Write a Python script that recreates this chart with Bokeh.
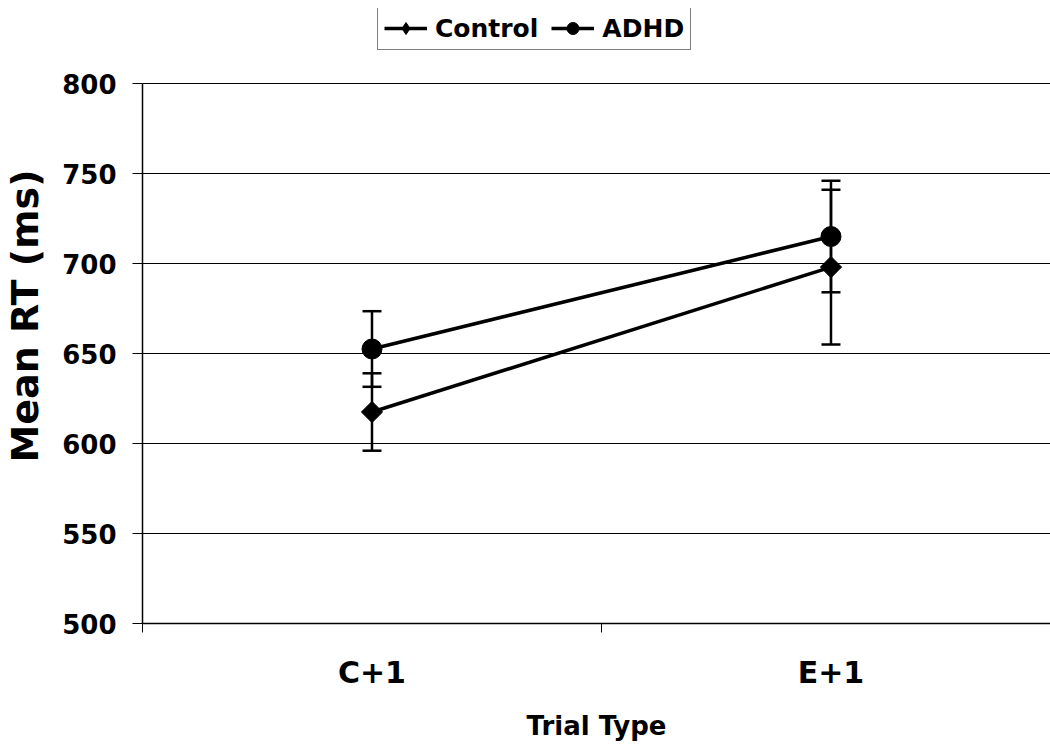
from bokeh.plotting import figure
from bokeh.models import (ColumnDataSource, Range1d, FixedTicker, Whisker, TeeHead,
                          Legend, LegendItem)
from bokeh.embed import file_html
from bokeh.resources import INLINE
import math

# ---- data ----
categories = ["C+1", "E+1"]
control_mean = [617.5, 698.0]
control_se = [21.5, 43.0]
adhd_mean = [652.5, 715.0]
adhd_se = [21.0, 31.0]
y_ticks = [500, 550, 600, 650, 700, 750, 800]
x_title = "Trial Type"
y_title = "Mean RT (ms)"

xpos = [i + 0.5 for i in range(len(categories))]
FONT = "DejaVu Sans"

def src(mean, se):
    return ColumnDataSource(dict(
        x=xpos, y=mean,
        lo=[m - s for m, s in zip(mean, se)],
        hi=[m + s for m, s in zip(mean, se)],
    ))

s_ctrl = src(control_mean, control_se)
s_adhd = src(adhd_mean, adhd_se)

W, H = 1050, 748
LEFT, TOP, BOTTOM = 140, 8, 125
frame_w = W - LEFT
frame_h = H - TOP - BOTTOM
px_per_x = 460.0
px_per_y = 1.8
LEG_H = 42

p = figure(width=W, height=H, output_backend="svg", toolbar_location=None,
           x_range=Range1d(0, frame_w / px_per_x),
           y_range=Range1d(y_ticks[0], y_ticks[0] + frame_h / px_per_y),
           min_border_left=LEFT, min_border_right=0, min_border_top=TOP,
           min_border_bottom=BOTTOM)
p.outline_line_color = None
p.background_fill_color = "white"
p.border_fill_color = "white"

# grid
p.xgrid.visible = False
p.ygrid.grid_line_color = "black"
p.ygrid.grid_line_width = 1
p.ygrid.grid_line_alpha = 1

# y axis
p.yaxis.ticker = FixedTicker(ticks=y_ticks)
p.yaxis.bounds = (y_ticks[0], y_ticks[-1])
p.yaxis.axis_line_color = "black"
p.yaxis.axis_line_width = 1.5
p.yaxis.major_tick_out = 10
p.yaxis.major_tick_in = 0
p.yaxis.major_tick_line_color = "black"
p.yaxis.minor_tick_line_color = None
p.yaxis.major_label_text_font = FONT
p.yaxis.major_label_text_font_style = "bold"
p.yaxis.major_label_text_font_size = "26px"
p.yaxis.major_label_text_color = "black"
p.yaxis.major_label_standoff = 16
p.yaxis.axis_label = y_title
p.yaxis.axis_label_text_font = FONT
p.yaxis.axis_label_text_font_style = "bold"
p.yaxis.axis_label_text_font_size = "38px"
p.yaxis.axis_label_text_color = "black"
p.yaxis.axis_label_standoff = 12

# x axis
p.xaxis.ticker = FixedTicker(ticks=xpos, minor_ticks=[i for i in range(len(categories) + 1)])
p.xaxis.major_label_overrides = {x: c for x, c in zip(xpos, categories)}
p.xaxis.axis_line_color = "black"
p.xaxis.axis_line_width = 1.5
p.xaxis.major_tick_out = 0
p.xaxis.major_tick_in = 0
p.xaxis.minor_tick_out = 9
p.xaxis.minor_tick_in = 0
p.xaxis.minor_tick_line_color = "black"
p.xaxis.minor_tick_line_width = 1
p.xaxis.major_label_text_font = FONT
p.xaxis.major_label_text_font_style = "bold"
p.xaxis.major_label_text_font_size = "30px"
p.xaxis.major_label_text_color = "black"
p.xaxis.major_label_standoff = 22
p.xaxis.axis_label = x_title
p.xaxis.axis_label_text_font = FONT
p.xaxis.axis_label_text_font_style = "bold"
p.xaxis.axis_label_text_font_size = "26px"
p.xaxis.axis_label_text_color = "black"
p.xaxis.axis_label_standoff = 18

# error bars
for s in (s_ctrl, s_adhd):
    w = Whisker(source=s, base="x", lower="lo", upper="hi",
                line_color="black", line_width=2.5,
                upper_head=TeeHead(size=19, line_color="black", line_width=2.5),
                lower_head=TeeHead(size=19, line_color="black", line_width=2.5))
    p.add_layout(w)

# lines + markers
l1 = p.line("x", "y", source=s_ctrl, line_color="black", line_width=3.5)
d1 = p.scatter("x", "y", source=s_ctrl, marker="diamond", size=19,
               fill_color="black", line_color="black")
m1 = p.scatter("x", "y", source=s_ctrl, marker="square", angle=math.pi / 4,
               size=15, fill_color="black", line_color="black")
l2 = p.line("x", "y", source=s_adhd, line_color="black", line_width=3.5)
m2 = p.scatter("x", "y", source=s_adhd, marker="circle", size=20,
               fill_color="black", line_color="black")

legend = Legend(items=[LegendItem(label="Control", renderers=[l1, d1]),
                       LegendItem(label="ADHD", renderers=[l2, m2])],
                orientation="horizontal", location=(235, frame_h - LEG_H),
                border_line_color="black", border_line_width=1.5,
                label_text_font=FONT, label_text_font_style="bold",
                label_text_font_size="25px", label_text_color="black",
                glyph_width=43, glyph_height=30, label_standoff=8,
                spacing=13, padding=6, margin=0,
                background_fill_color="white", background_fill_alpha=1)
p.add_layout(legend, "center")

open("out.html", "w").write(file_html(p, INLINE))
